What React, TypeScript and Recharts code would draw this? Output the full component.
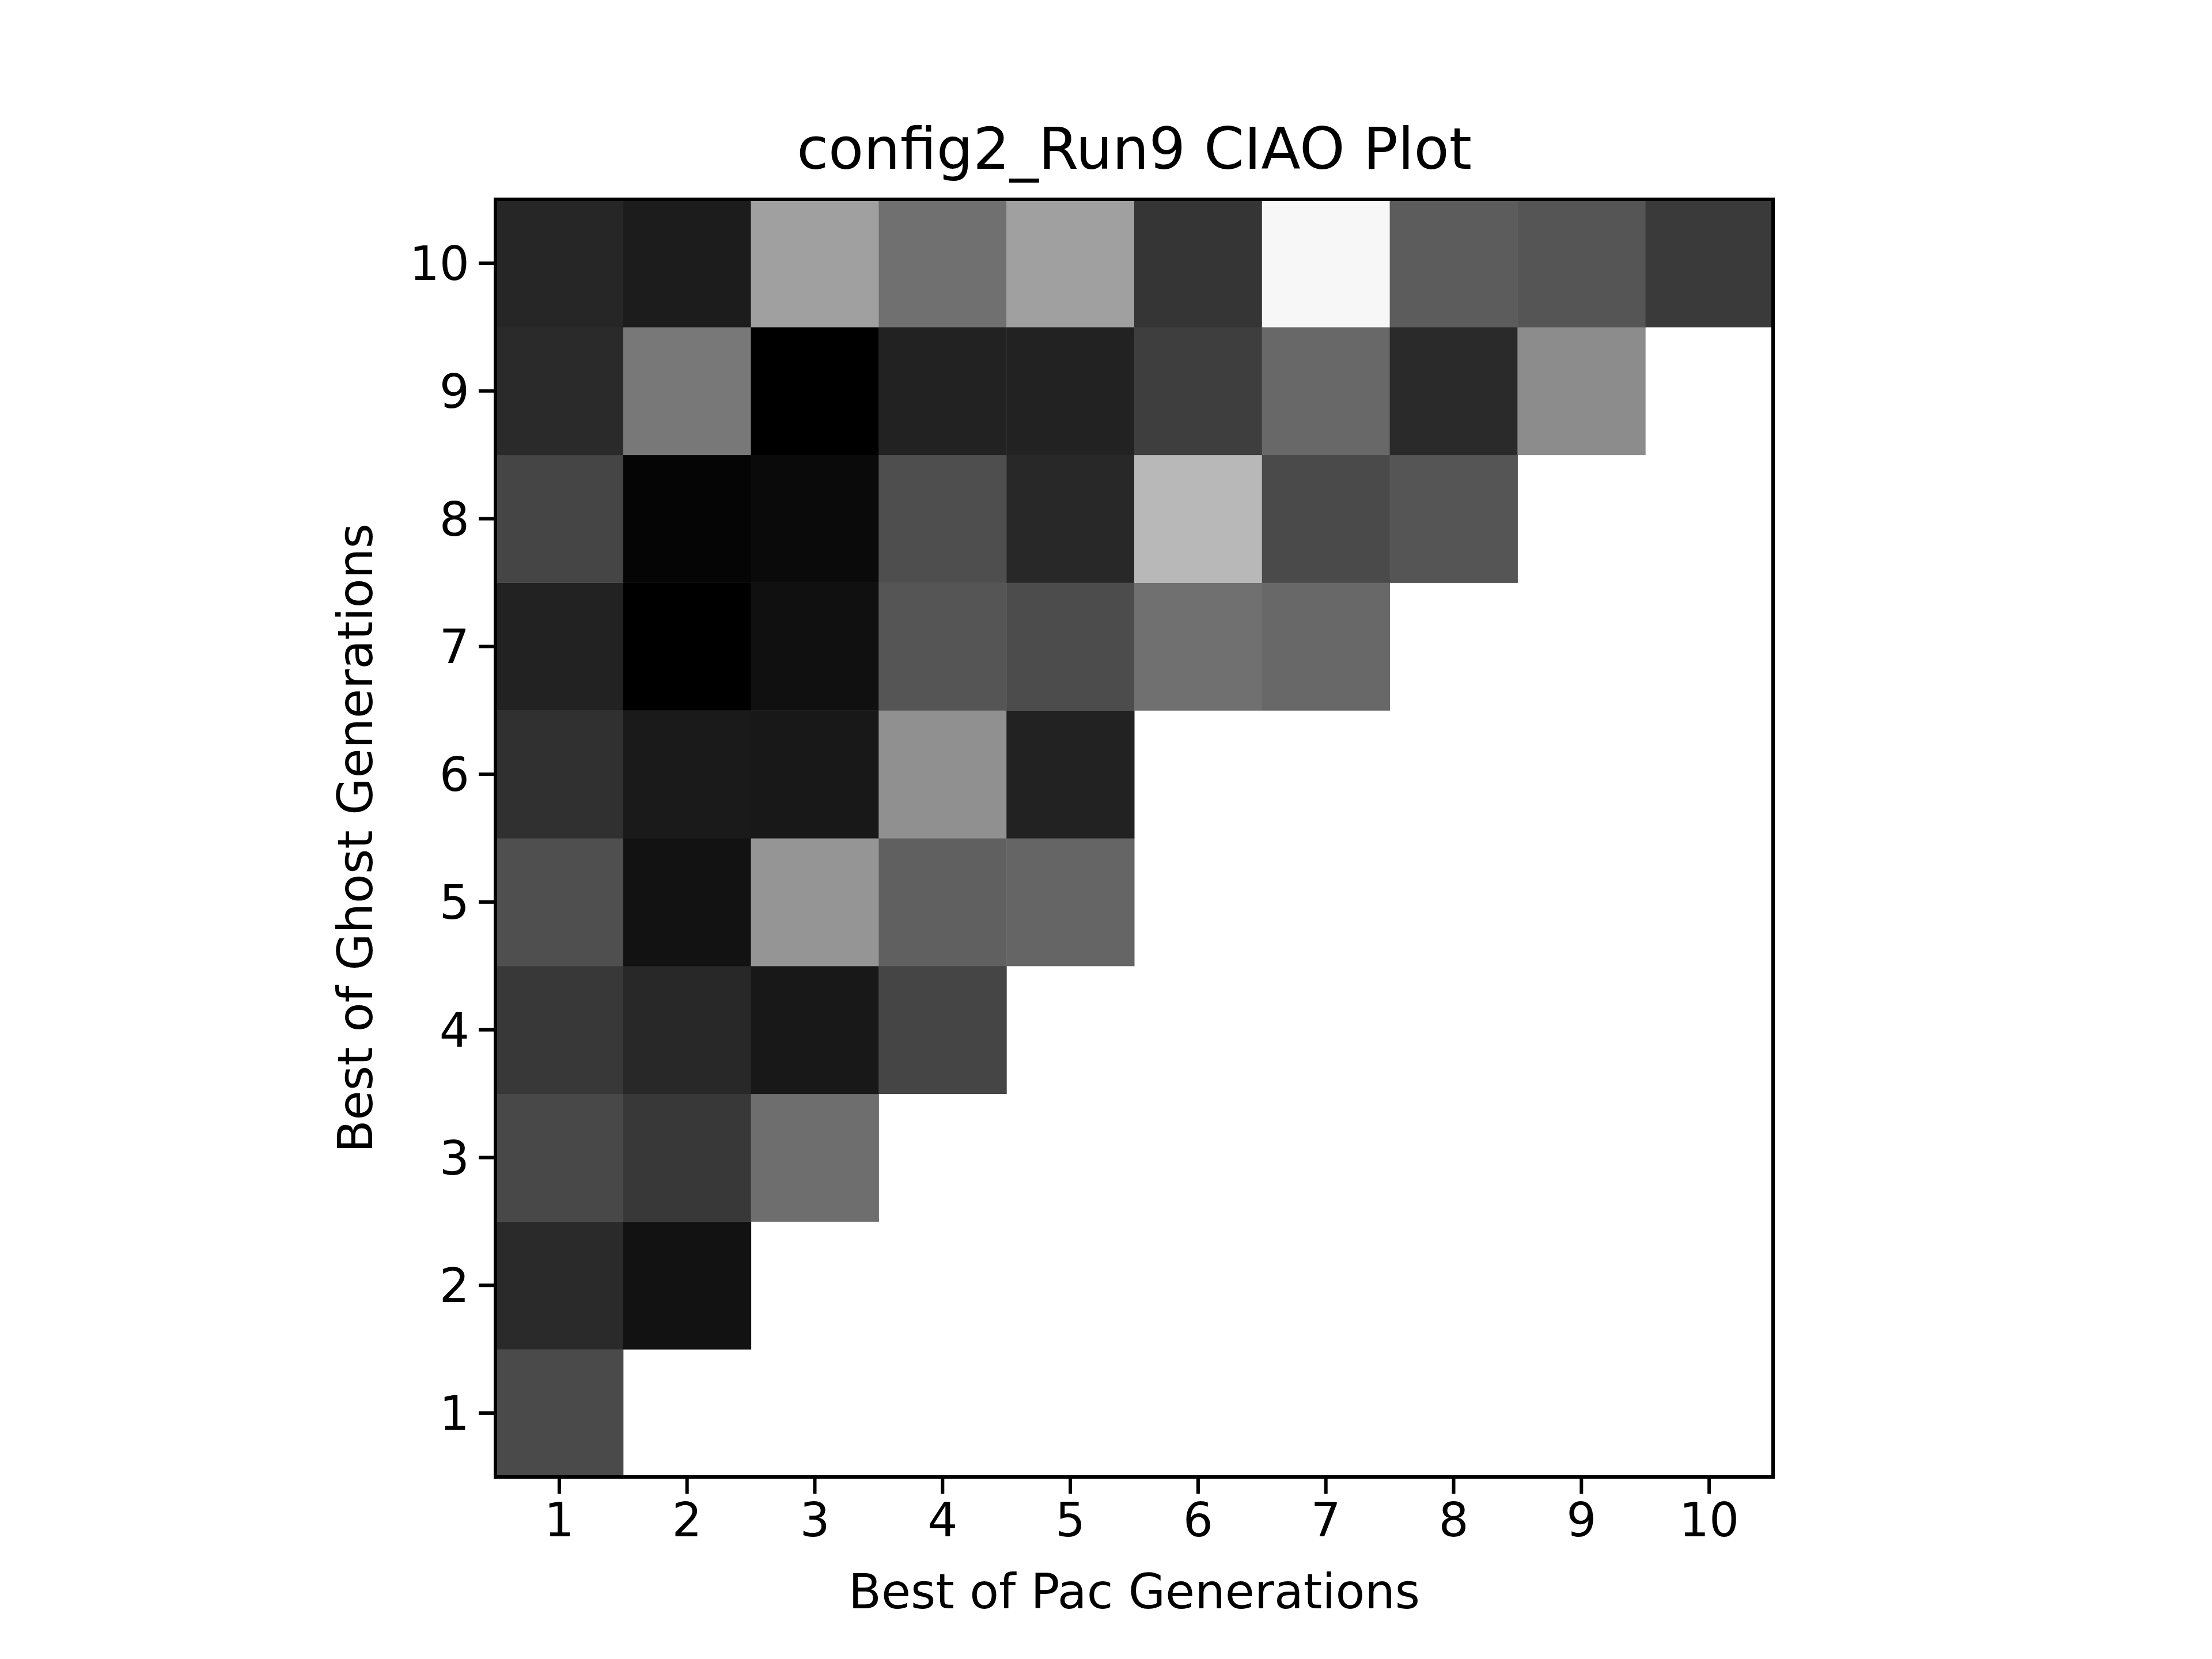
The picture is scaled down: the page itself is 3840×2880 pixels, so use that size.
import { ScatterChart, Scatter, XAxis, YAxis } from "recharts";

// grey levels (0-255) per row of ghost generation, indexed by pac generation 1..n
const ghostRows: number[][] = [
  [0x4a],
  [0x2a, 0x12],
  [0x48, 0x38, 0x6e],
  [0x38, 0x28, 0x18, 0x45],
  [0x4f, 0x12, 0x95, 0x60, 0x65],
  [0x30, 0x1a, 0x18, 0x90, 0x22],
  [0x22, 0x00, 0x10, 0x55, 0x4c, 0x70, 0x68],
  [0x45, 0x05, 0x0a, 0x4e, 0x28, 0xb8, 0x4a, 0x55],
  [0x2a, 0x78, 0x00, 0x22, 0x22, 0x3e, 0x68, 0x2a, 0x8c],
  [0x26, 0x1c, 0xa0, 0x70, 0xa0, 0x35, 0xf7, 0x5c, 0x55, 0x3a],
];
const ticks = [1, 2, 3, 4, 5, 6, 7, 8, 9, 10];

const cells = ghostRows.flatMap((row, gi) =>
  row.map((v, pi) => ({ pac: pi + 1, ghost: gi + 1, level: v }))
);

const LEFT = 860;
const TOP = 346;
const SIZE = 2218;
const CELL = SIZE / 10;
const font = "DejaVu Sans";

const Cell = (props: any) => {
  const { cx, cy, payload } = props;
  const g = payload.level;
  return (
    <rect
      x={cx - CELL / 2}
      y={cy - CELL / 2}
      width={CELL + 0.5}
      height={CELL + 0.5}
      fill={`rgb(${g},${g},${g})`}
    />
  );
};

export default function App() {
  const tick = { fontSize: 82, fill: "#000", fontFamily: font };
  return (
    <div style={{ position: "absolute", left: 0, top: 0, width: 3840, height: 2880, background: "#fff" }}>
      <ScatterChart
        width={3840}
        height={2880}
        margin={{ top: TOP, right: 3840 - LEFT - SIZE, bottom: 2880 - TOP - SIZE - 200, left: LEFT - 200 }}
      >
        <XAxis
          type="number"
          dataKey="pac"
          domain={[0.5, 10.5]}
          ticks={ticks}
          height={200}
          tick={tick}
          tickLine={{ stroke: "#000", strokeWidth: 6 }}
          tickSize={29}
          tickMargin={16}
          axisLine={false}
          allowDataOverflow
        />
        <YAxis
          type="number"
          dataKey="ghost"
          domain={[0.5, 10.5]}
          ticks={ticks}
          width={200}
          tick={tick}
          tickLine={{ stroke: "#000", strokeWidth: 6 }}
          tickSize={29}
          tickMargin={16}
          axisLine={false}
          allowDataOverflow
        />
        <Scatter data={cells} shape={Cell} isAnimationActive={false} />
      </ScatterChart>
      <div
        style={{
          position: "absolute", left: LEFT - 3, top: TOP - 3, width: SIZE + 6, height: SIZE + 6,
          border: "6px solid #000", boxSizing: "border-box", pointerEvents: "none",
        }}
      />
      <div style={{ position: "absolute", left: LEFT, width: SIZE, top: 200, textAlign: "center", fontFamily: font, fontSize: 100 }}>
        config2_Run9 CIAO Plot
      </div>
      <div style={{ position: "absolute", left: LEFT, width: SIZE, top: 2715, textAlign: "center", fontFamily: font, fontSize: 83 }}>
        Best of Pac Generations
      </div>
      <div
        style={{
          position: "absolute", left: 618 - SIZE / 2, top: TOP + SIZE / 2 - 55, width: SIZE, textAlign: "center",
          fontFamily: font, fontSize: 83, transform: "rotate(-90deg)", lineHeight: "110px",
        }}
      >
        Best of Ghost Generations
      </div>
    </div>
  );
}
